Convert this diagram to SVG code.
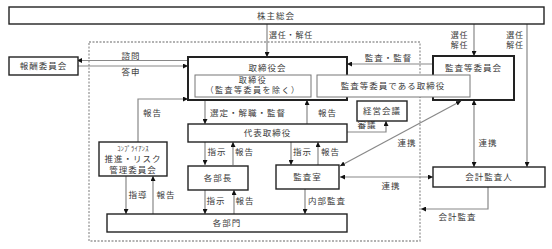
<svg xmlns="http://www.w3.org/2000/svg" width="552" height="249" viewBox="0 0 552 249">
<style>
text{font-family:"Noto Sans CJK JP","Noto Sans",sans-serif;font-size:8.5px;letter-spacing:1px;fill:#3a3a3a;}
.c{text-anchor:middle;}
.s8{font-size:8px;letter-spacing:1.5px;}
.st{font-size:8px;letter-spacing:0.8px;}
.box{fill:#fff;stroke:#222;stroke-width:1.4;}
.thick{fill:#fff;stroke:#222;stroke-width:2;}
.inner{fill:#fff;stroke:#777;stroke-width:1;}
.ln{fill:none;stroke:#888;stroke-width:1.2;}
.dash{fill:none;stroke:#999;stroke-width:1.3;stroke-dasharray:2 1.5;}
.sm{font-size:6.5px;letter-spacing:0.3px;}
</style>
<defs>
<marker id="ah" viewBox="0 0 6 6" refX="6" refY="3" markerWidth="5" markerHeight="5" orient="auto-start-reverse" markerUnits="userSpaceOnUse">
<path d="M0,0 L6,3 L0,6 z" fill="#111"/>
</marker>
</defs>
<rect width="552" height="249" fill="#fff"/>
<rect class="dash" x="89" y="42" width="331" height="199"/>
<g id="connectors">
<line class="ln" x1="267" y1="24" x2="267" y2="57" marker-end="url(#ah)"/>
<line class="ln" x1="474" y1="24" x2="474" y2="56" marker-end="url(#ah)"/>
<line class="ln" x1="527" y1="24" x2="527" y2="167" marker-end="url(#ah)"/>
<line class="ln" x1="188" y1="60.5" x2="77" y2="60.5" marker-end="url(#ah)"/>
<line class="ln" x1="77" y1="66" x2="188" y2="66" marker-end="url(#ah)"/>
<line class="ln" x1="433" y1="64" x2="347" y2="64" marker-end="url(#ah)"/>
<line class="ln" x1="205" y1="100" x2="205" y2="124" marker-end="url(#ah)"/>
<line class="ln" x1="307" y1="124" x2="307" y2="100" marker-end="url(#ah)"/>
<polyline class="ln" points="138,142 138,99 188,99" marker-end="url(#ah)"/>
<polyline class="ln" points="347,132 386,132 386,121" marker-end="url(#ah)"/>
<line class="ln" x1="205" y1="142" x2="205" y2="165" marker-end="url(#ah)"/>
<line class="ln" x1="233" y1="165" x2="233" y2="142" marker-end="url(#ah)"/>
<line class="ln" x1="291" y1="142" x2="291" y2="165" marker-end="url(#ah)"/>
<line class="ln" x1="318" y1="165" x2="318" y2="142" marker-end="url(#ah)"/>
<line class="ln" x1="340" y1="166" x2="461" y2="101" marker-start="url(#ah)" marker-end="url(#ah)"/>
<line class="ln" x1="474" y1="100" x2="474" y2="167" marker-start="url(#ah)" marker-end="url(#ah)"/>
<line class="ln" x1="340" y1="177" x2="433" y2="177" marker-start="url(#ah)" marker-end="url(#ah)"/>
<line class="ln" x1="126" y1="176" x2="126" y2="214" marker-end="url(#ah)"/>
<line class="ln" x1="153" y1="214" x2="153" y2="176" marker-end="url(#ah)"/>
<line class="ln" x1="205" y1="190" x2="205" y2="214" marker-end="url(#ah)"/>
<line class="ln" x1="234" y1="214" x2="234" y2="190" marker-end="url(#ah)"/>
<line class="ln" x1="305" y1="189" x2="305" y2="214" marker-end="url(#ah)"/>
<polyline class="ln" points="488,187 488,209 421,209" marker-end="url(#ah)"/>
</g>
<g id="labels">
<text x="291" y="38" class="c st">選任・解任</text>
<text x="459.5" y="37.5" class="c st">選任</text>
<text x="459.5" y="47.5" class="c st">解任</text>
<text x="515" y="37.5" class="c st">選任</text>
<text x="515" y="47.5" class="c st">解任</text>
<text x="131" y="58.5" class="c">諮問</text>
<text x="131" y="74.5" class="c">答申</text>
<text x="388.5" y="61" class="c">監査・監督</text>
<text x="210" y="116">選定・解職・監督</text>
<text x="318" y="116">報告</text>
<text x="143" y="116">報告</text>
<text x="367" y="127.5" class="c">審議</text>
<text x="407" y="146" class="c">連携</text>
<text x="488" y="145.5" class="c">連携</text>
<text x="217" y="155" class="c">指示</text>
<text x="244.5" y="155" class="c">報告</text>
<text x="302.5" y="155" class="c">指示</text>
<text x="330.5" y="155" class="c">報告</text>
<text x="391" y="188.5" class="c">連携</text>
<text x="138" y="197.5" class="c">指導</text>
<text x="166" y="197.5" class="c">報告</text>
<text x="216" y="203.5" class="c">指示</text>
<text x="245" y="203.5" class="c">報告</text>
<text x="327" y="204" class="c">内部監査</text>
<text x="457.5" y="220" class="c">会計監査</text>
</g>
<g id="kabunushi"><rect class="box" x="9" y="7" width="535" height="17"/><text x="276" y="19" class="c">株主総会</text></g>
<g id="hoshu"><rect class="box" x="9" y="57" width="69" height="18"/><text x="43.5" y="69" class="c">報酬委員会</text></g>
<g id="torishimariyakukai"><rect class="thick" x="188" y="57" width="159" height="43"/><text x="267.5" y="71" class="c">取締役会</text></g>
<g id="torishimariyaku"><rect class="inner" x="195" y="75" width="116" height="22"/><text x="253" y="82.5" class="c s8">取締役</text><text x="253" y="93" class="c s8">（監査等委員を除く）</text></g>
<g id="kansatoiinkai"><rect class="thick" x="433" y="56" width="81" height="44"/><text x="473.5" y="70.5" class="c">監査等委員会</text></g>
<g id="kansatoiin-torishimariyaku"><rect class="inner" x="317" y="75" width="153" height="22"/><text x="393" y="89" class="c">監査等委員である取締役</text></g>
<g id="keiei"><rect class="box" x="357" y="101" width="50" height="20"/><text x="382" y="114" class="c">経営会議</text></g>
<g id="daihyo"><rect class="box" x="188" y="124" width="159" height="18"/><text x="267.5" y="136" class="c">代表取締役</text></g>
<g id="compliance"><rect class="box" x="99" y="142" width="68" height="34"/><text x="133" y="150.5" class="c sm">ｺﾝﾌﾟﾗｲｱﾝｽ</text><text x="133" y="161.5" class="c">推進・リスク</text><text x="133" y="172.5" class="c">管理委員会</text></g>
<g id="buchou"><rect class="box" x="188" y="166" width="60" height="24"/><text x="218" y="181" class="c">各部長</text></g>
<g id="kansashitsu"><rect class="box" x="276" y="165" width="63" height="24"/><text x="307.5" y="180" class="c">監査室</text></g>
<g id="kaikei"><rect class="box" x="433" y="167" width="112" height="20"/><text x="489" y="180" class="c">会計監査人</text></g>
<g id="bumon"><rect class="box" x="107" y="214" width="240" height="18"/><text x="227" y="226" class="c">各部門</text></g>
</svg>
